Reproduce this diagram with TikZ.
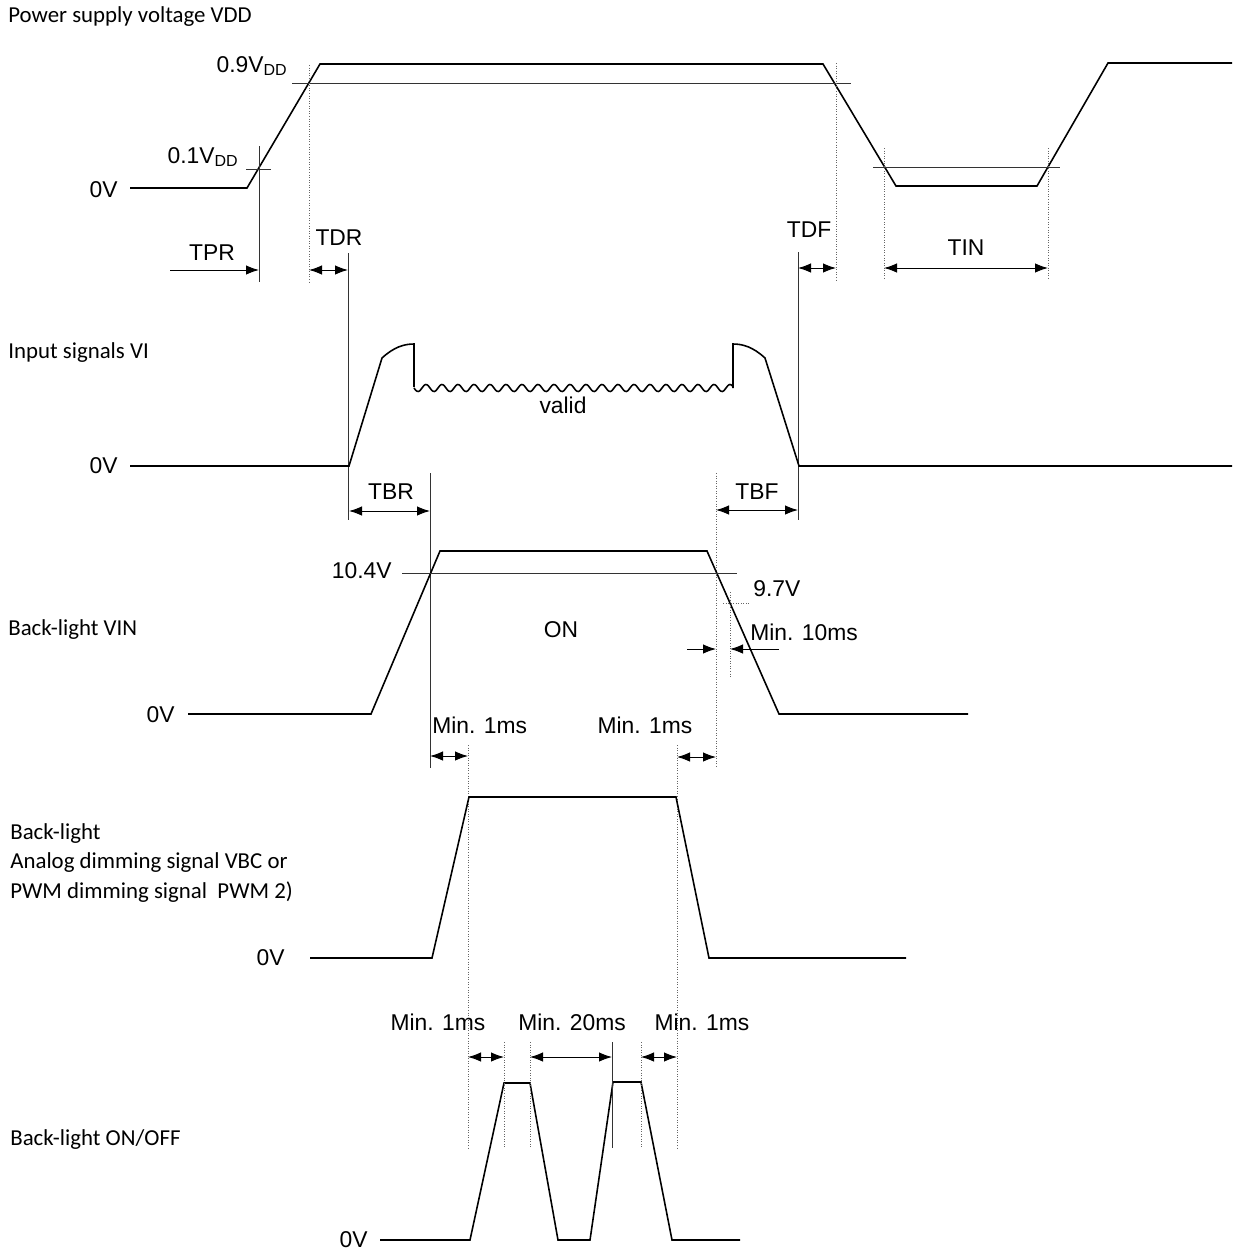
\documentclass[tikz,border=0pt]{standalone}
\usepackage{fontspec}
\setmainfont{Liberation Sans}
\newfontfamily\sidefont{Carlito}
\usetikzlibrary{arrows.meta}
\tikzset{
  sig/.style={line width=0.9pt},
  vline/.style={line width=0.45pt, black!80},
  dotline/.style={line width=0.45pt, densely dotted, black!60},
  dimarr/.style={{Latex[length=2.6mm,width=1.9mm]}-{Latex[length=2.6mm,width=1.9mm]}, line width=0.55pt},
  onearr/.style={-{Latex[length=2.6mm,width=1.9mm]}, line width=0.55pt},
  lbl/.style={font=\fontsize{13}{15}\selectfont, inner sep=0pt},
  side/.style={font=\sidefont\fontsize{13}{17}\selectfont, anchor=west, align=left, inner sep=0pt},
}

\begin{document}
\begin{tikzpicture}[x=0.02cm, y=-0.02cm]
  \useasboundingbox (0,0) rectangle (1232,1251);

  % power supply
  \node[side] (vddlbl) at (8,17) {Power supply voltage VDD};
  \node[lbl, anchor=east] (vdd0) at (118,190) {0V};
  \node[lbl, anchor=east] (vdd9) at (288,66) {0.9V\textsubscript{DD}};
  \node[lbl, anchor=east] (vdd1) at (239,157) {0.1V\textsubscript{DD}};
  \draw[sig] (130,188) -- (247,188) -- (320,64) -- (823,64) -- (896,186)
    -- (1037,186) -- (1108,63) -- (1232,63);
  \draw[vline] (292,83) -- (851,83);
  \draw[vline] (246,169) -- (271,169);
  \draw[vline] (873,167) -- (1060,167);
  \draw[vline] (259,146) -- (259,282);
  \draw[dotline] (309,65) -- (309,282);
  \draw[vline] (348,253) -- (348,520);
  \draw[vline] (798,252) -- (798,520);
  \draw[dotline] (836,63) -- (836,282);
  \draw[dotline] (884,148) -- (884,280);
  \draw[dotline] (1048,148) -- (1048,280);
  \draw[onearr] (170,270) -- (259,270);
  \draw[dimarr] (309,270) -- (348,270);
  \draw[dimarr] (798,268) -- (836,268);
  \draw[dimarr] (884,268) -- (1048,268);
  \node[lbl] (tpr) at (212,253) {TPR};
  \node[lbl] (tdr) at (339,238) {TDR};
  \node[lbl] (tdf) at (809,230) {TDF};
  \node[lbl] (tin) at (966,248) {TIN};

  % input signals
  \node[side] (vilbl) at (8,353) {Input signals VI};
  \node[lbl, anchor=east] (vi0) at (118,466) {0V};
  \draw[sig] (130,466) -- (349,466) -- (382,358) .. controls (394,347) and (404,344) .. (414,344)
    -- (414,387);
  \draw[sig] plot[domain=414:733, samples=300] (\x,{388+3.5*sin((\x-414)*22.5)});
  \draw[sig] (733,388) -- (733,344) .. controls (743,344) and (753,347) .. (765,358)
    -- (799,466) -- (1232,466);
  \node[lbl] (valid) at (563,405) {valid};
  \draw[vline] (430,473) -- (430,768);
  \draw[dotline] (716,473) -- (716,768);
  \draw[dimarr] (349,511) -- (430,511);
  \draw[dimarr] (716,510) -- (798,510);
  \node[lbl] (tbr) at (391,492) {TBR};
  \node[lbl] (tbf) at (757,492) {TBF};

  % back-light VIN
  \node[side] (vinlbl) at (8,630) {Back-light VIN};
  \node[lbl, anchor=east] (vin0) at (175,715) {0V};
  \draw[sig] (188,714) -- (371,714) -- (440,551) -- (707,551) -- (779,714) -- (968,714);
  \draw[vline] (402,573) -- (737,573);
  \node[lbl, anchor=east] (v104) at (392,571) {10.4V};
  \draw[dotline] (723,603) -- (750,603);
  \draw[dotline] (730,592) -- (730,677);
  \node[lbl, anchor=west] (v97) at (753,589) {9.7V};
  \node[lbl, anchor=west] (min10) at (750,632) {Min. 10ms};
  \draw[onearr] (687,649) -- (716,649);
  \draw[onearr] (779,649) -- (730,649);
  \node[lbl] (on) at (561,630) {ON};
  \node[lbl, anchor=west] (min1a) at (432,725) {Min. 1ms};
  \node[lbl] (min1b) at (645,725) {Min. 1ms};
  \draw[dimarr] (430,756) -- (468,756);
  \draw[dimarr] (677,757) -- (716,757);
  \draw[dotline] (468,745) -- (468,1148);
  \draw[dotline] (677,745) -- (677,1148);

  % dimming signal
  \node[side] (dimlbl) at (10,863) {Back-light\\Analog dimming signal VBC or\\PWM dimming signal\ \ PWM 2)};
  \node[lbl, anchor=east] (dim0) at (285,958) {0V};
  \draw[sig] (310,958) -- (432,958) -- (469,797) -- (676,797) -- (709,958) -- (906,958);

  % on/off
  \node[side] (onofflbl) at (10,1140) {Back-light ON/OFF};
  \node[lbl, anchor=east] (onoff0) at (368,1240) {0V};
  \draw[sig] (380,1240) -- (470,1240) -- (504,1083) -- (530,1083) -- (558,1240) -- (590,1240)
    -- (613,1082) -- (641,1082) -- (672,1240) -- (740,1240);
  \draw[dotline] (504,1042) -- (504,1148);
  \draw[dotline] (530,1042) -- (530,1148);
  \draw[vline] (612,1042) -- (612,1148);
  \draw[dotline] (641,1042) -- (641,1148);
  \draw[dimarr] (468,1057) -- (504,1057);
  \draw[dimarr] (530,1057) -- (612,1057);
  \draw[dimarr] (641,1057) -- (677,1057);
  \node[lbl] (min1c) at (438,1022) {Min. 1ms};
  \node[lbl] (min20) at (572,1022) {Min. 20ms};
  \node[lbl] (min1d) at (702,1022) {Min. 1ms};
\end{tikzpicture}
\end{document}
